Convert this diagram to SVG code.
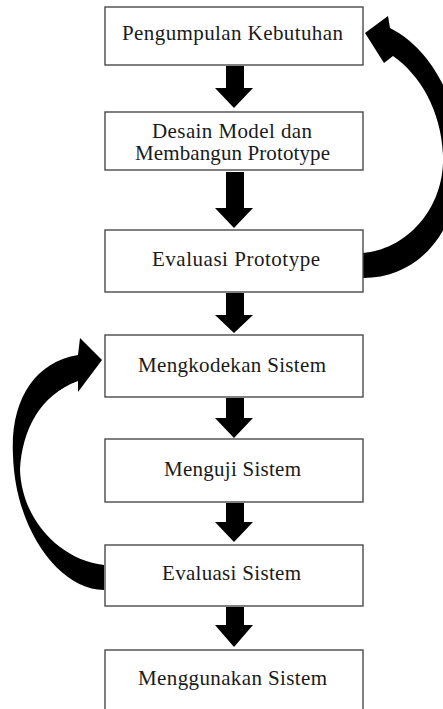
<svg xmlns="http://www.w3.org/2000/svg" width="443" height="709" viewBox="0 0 443 709">
<style>
.box{fill:#fff;stroke:#4a4a4a;stroke-width:1.4}
.lbl{font-family:"Liberation Serif","Times New Roman",serif;font-size:21px;fill:#1a1a1a;text-anchor:start}
.arr{fill:#000}
</style>
<rect width="443" height="709" fill="#fff"/>
<g id="connectors">
<path class="arr" d="M226 66 H244 V88 H253 L234 108 L215 88 H226 Z"/>
<path class="arr" d="M226 172 H244 V208 H253 L234 228 L215 208 H226 Z"/>
<path class="arr" d="M226 293 H244 V315 H253 L234 333 L215 315 H226 Z"/>
<path class="arr" d="M226 398 H244 V418 H253 L234 438 L215 418 H226 Z"/>
<path class="arr" d="M226 503 H244 V522 H253 L234 542 L215 522 H226 Z"/>
<path class="arr" d="M226 607 H244 V625 H253 L234 647 L215 625 H226 Z"/>
<path class="arr" d="M363 253 C405 250 445 210 443 155 C441 110 420 75 393 56 L384 63 L365 33 L388 16 L390 28 C430 48 460 100 460 160 C460 230 420 278 363 278 Z"/>
<path class="arr" d="M104 565 C60 560 22 520 20 470 C22 430 40 395 78 381 L78 392 L102 360 L80 338 L78 355 C35 362 10 400 13 455 C15 530 60 590 104 590 Z"/>
</g>
<g id="n1"><rect class="box" x="105" y="7" width="258" height="58"/><text class="lbl" x="122" y="40" textLength="221" lengthAdjust="spacing">Pengumpulan Kebutuhan</text></g>
<g id="n2"><rect class="box" x="105" y="112" width="258" height="58"/><text class="lbl" x="152" y="138" textLength="160" lengthAdjust="spacing">Desain Model dan</text><text class="lbl" x="135" y="160" textLength="195" lengthAdjust="spacing">Membangun Prototype</text></g>
<g id="n3"><rect class="box" x="105" y="230" width="258" height="62"/><text class="lbl" x="152" y="266" textLength="168" lengthAdjust="spacing">Evaluasi Prototype</text></g>
<g id="n4"><rect class="box" x="105" y="335" width="258" height="62"/><text class="lbl" x="138" y="372" textLength="188" lengthAdjust="spacing">Mengkodekan Sistem</text></g>
<g id="n5"><rect class="box" x="105" y="439" width="258" height="63"/><text class="lbl" x="164" y="476" textLength="137" lengthAdjust="spacing">Menguji Sistem</text></g>
<g id="n6"><rect class="box" x="105" y="545" width="258" height="61"/><text class="lbl" x="162" y="580" textLength="139" lengthAdjust="spacing">Evaluasi Sistem</text></g>
<g id="n7"><rect class="box" x="105" y="650" width="258" height="64"/><text class="lbl" x="138" y="685" textLength="189" lengthAdjust="spacing">Menggunakan Sistem</text></g>
</svg>
